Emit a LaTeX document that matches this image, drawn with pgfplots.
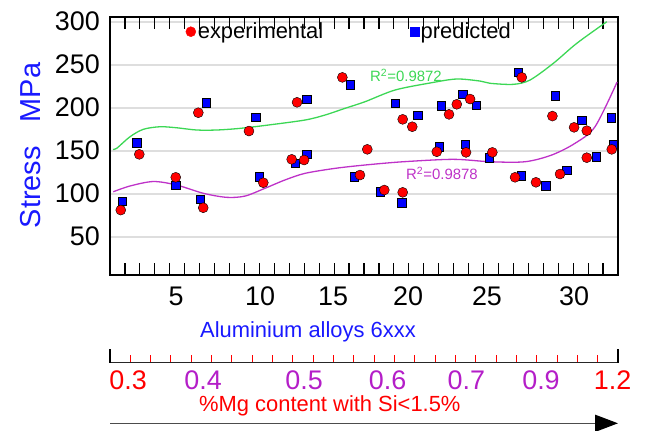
\documentclass[border=0pt]{standalone}
\usepackage{pgfplots}
\pgfplotsset{compat=1.18}
\usepackage{fontspec}
\setmainfont{Liberation Sans}
\usetikzlibrary{arrows.meta}

\definecolor{trendgreen}{RGB}{60,215,85}
\definecolor{trendmag}{RGB}{190,50,200}
\definecolor{labblue}{RGB}{25,25,255}
\definecolor{mgpurple}{RGB}{180,30,200}

\begin{document}
\begin{tikzpicture}
\path[use as bounding box] (0bp,0bp) rectangle (645bp,-431bp);

% main stress chart
\begin{axis}[
    at={(110bp,-275bp)}, anchor=south west,
    scale only axis, width=508bp, height=258bp,
    xmin=0, xmax=34, ymin=5.5, ymax=305.5,
    axis line style={black, line width=1.3bp},
    /pgf/number format/assume math mode=true,
    tick label style={font=\fontsize{27}{30}\selectfont},
    xtick={4.42,10.04,14.93,19.95,25.23,31.06},
    xticklabels={5,10,15,20,25,30},
    xticklabel style={anchor=base, yshift=-30bp},
    major x tick style={draw=none},
    minor xtick={1,...,33},
    minor x tick style={black, line width=1.2bp},
    minor tick length=12bp,
    tick align=inside,
    ytick={50,100,...,300},
    ytick style={draw=none},
    yticklabel style={anchor=east, inner sep=0pt, xshift=-10bp},
    ymajorgrids,
    major grid style={black!13, line width=1.6bp},
    legend columns=2,
    legend style={draw=none, fill=none, at={(0.143,0.943)}, anchor=west,
      font=\fontsize{22}{24}\selectfont,
      /tikz/every even column/.append style={column sep=85bp}},
]
\addlegendimage{only marks, mark=*, mark size=5bp, red, mark options={draw=none, fill=red}}
\addlegendentry{experimental}
\addlegendimage{only marks, mark=square*, mark size=4.2bp, blue, mark options={draw=none, fill=blue}}
\addlegendentry{predicted}

% polynomial trend lines
\addplot[trendgreen, line width=1.3bp, smooth, forget plot] coordinates {
 (0.20,151.6) (0.45,152.8) (1.34,166.3) (2.23,174.9) (3.35,177.9) (4.46,176.7)
 (5.80,174.1) (7.14,174.1) (8.70,176.0) (10.60,179.9) (13.05,185.7) (14.39,191.5)
 (15.73,199.3) (17.07,207.0) (19.08,220.6) (21.53,229.1) (23.21,233.4) (24.77,231.0)
 (25.44,228.4) (26.99,227.2) (28.11,232.2) (29.67,251.6) (31.24,274.9) (33.25,300.0)
};
\addplot[trendmag, line width=1.3bp, smooth, forget plot] coordinates {
 (0.22,102.3) (1.34,109.0) (2.90,114.2) (4.46,110.1) (6.25,100.5) (7.81,95.8)
 (9.04,97.3) (10.37,106.3) (11.71,116.0) (13.05,123.7) (15.06,129.5) (17.07,133.4)
 (19.63,137.2) (22.98,140.0) (25.44,137.2) (27.78,137.2) (29.56,145.0) (31.12,158.6)
 (32.46,177.9) (33.94,229.9)
};

% predicted
\addplot[only marks, mark=square*, mark size=4.2bp, mark options={draw=none, fill=blue}, forget plot] coordinates {
 (0.80,91.5) (1.79,159.3) (4.40,109.8) (6.02,93.8) (6.43,205.8) (9.75,188.8)
 (9.97,119.8) (12.38,135.3) (13.17,209.8) (13.17,145.8) (16.06,226.7) (16.35,119.8)
 (18.07,102.3) (19.08,205.1) (19.52,89.5) (20.60,191.5) (22.02,154.7) (22.16,202.3)
 (23.61,215.6) (23.76,157.8) (24.50,203.1) (25.37,141.9) (27.33,241.2) (27.51,120.9)
 (29.16,109.3) (29.79,214.0) (30.57,127.6) (31.57,185.7) (32.53,143.0) (33.53,188.4)
 (33.69,157.4)
};
% experimental
\addplot[only marks, mark=*, mark size=5bp, mark options={draw=none, fill=red}, forget plot] coordinates {
 (0.72,81.0) (1.96,145.8) (4.40,119.1) (5.91,194.2) (6.24,83.7) (9.30,172.9)
 (10.26,112.8) (12.16,140.0) (12.52,206.3) (12.99,139.2) (15.55,235.3) (16.73,121.7)
 (17.22,151.6) (18.36,104.3) (19.59,186.5) (19.59,101.6) (20.23,177.9) (21.87,148.8)
 (22.69,192.3) (23.21,204.0) (23.83,148.1) (24.10,210.1) (25.59,148.1) (27.11,119.1)
 (27.56,235.3) (28.51,113.3) (29.61,190.3) (30.12,122.9) (31.06,177.2) (31.91,173.3)
 (31.91,141.9) (33.58,151.6)
};
\end{axis}

% Mg content scale
\begin{axis}[
    at={(110bp,-362.7bp)}, anchor=south west,
    scale only axis, width=508bp, height=10bp,
    xmin=0, xmax=25, ymin=0, ymax=1,
    axis x line=bottom, hide y axis,
    x axis line style={-, black!85, line width=1.3bp},
    /pgf/number format/assume math mode=true,
    tick label style={font=\fontsize{27}{30}\selectfont},
    xtick={0.89,4.58,9.55,13.66,17.54,21.21,24.73},
    xticklabels={\textcolor{red}{0.3},\textcolor{mgpurple}{0.4},\textcolor{mgpurple}{0.5},
      \textcolor{mgpurple}{0.6},\textcolor{mgpurple}{0.7},\textcolor{mgpurple}{0.9},\textcolor{red}{1.2}},
    xticklabel style={anchor=base, yshift=-26.6bp},
    major x tick style={draw=none},
    minor xtick={1,...,24},
    minor x tick style={red, line width=1bp},
    minor tick length=8bp,
    tick align=inside,
    extra x ticks={0,25},
    extra x tick labels={},
    extra x tick style={major tick length=14bp, major x tick style={draw=black, line width=1.3bp}},
]
\end{axis}

\node[labblue, rotate=90, font=\fontsize{29}{32}\selectfont, inner sep=0pt] at (31bp,-145.5bp) {Stress\hspace{24bp}MPa};
\node[labblue, anchor=base west, inner sep=0pt, font=\fontsize{22}{24}\selectfont] at (200bp,-337.5bp) {Aluminium alloys 6xxx};
\node[red, anchor=base west, inner sep=0pt, font=\fontsize{22}{24}\selectfont] at (199bp,-411bp) {\%Mg content with Si<1.5\%};
\node[trendgreen, anchor=base west, inner sep=0pt, font=\fontsize{15}{17}\selectfont] at (370bp,-81.7bp) {R\textsuperscript{2}=0.9872};
\node[trendmag, anchor=base west, inner sep=0pt, font=\fontsize{15}{17}\selectfont] at (406bp,-179.3bp) {R\textsuperscript{2}=0.9878};
\draw[black!70, line width=1.6bp, -{Triangle[length=23bp, width=17bp, black]}] (110bp,-423.3bp) -- (618bp,-423.3bp);
\end{tikzpicture}
\end{document}
